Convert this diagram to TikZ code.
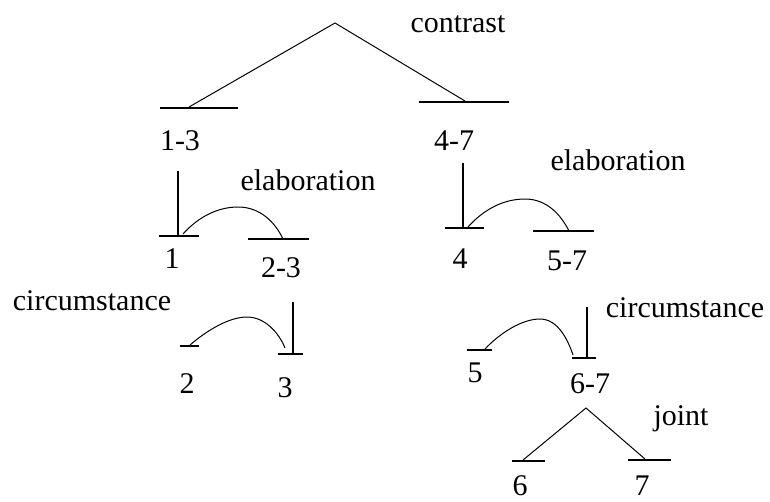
\documentclass[tikz,border=0pt]{standalone}
\usepackage{fontspec}
\setmainfont{Liberation Serif}
\begin{document}
\begin{tikzpicture}[x=1pt,y=-1pt,
  bar/.style={line width=1.2pt},
  link/.style={line width=1pt},
  lab/.style={anchor=base,inner sep=0pt,font=\fontsize{30}{30}\selectfont}]
\useasboundingbox (0,0) rectangle (770,501);
% labels
\node[lab] (contrast) at (458,32) {contrast};
\node[lab] (n13) at (180,150) {1-3};
\node[lab] (n47) at (454,150) {4-7};
\node[lab] (elabL) at (308,190) {elaboration};
\node[lab] (elabR) at (618,170) {elaboration};
\node[lab] (n1) at (172,268) {1};
\node[lab] (n23) at (281,277) {2-3};
\node[lab] (circL) at (92,310) {circumstance};
\node[lab] (n2) at (187,393) {2};
\node[lab] (n3) at (285,397) {3};
\node[lab] (n4) at (460,268) {4};
\node[lab] (n57) at (567,270) {5-7};
\node[lab] (circR) at (685,317) {circumstance};
\node[lab] (n5) at (475,382) {5};
\node[lab] (n67) at (590,393) {6-7};
\node[lab] (joint) at (681,425) {joint};
\node[lab] (n6) at (520,495) {6};
\node[lab] (n7) at (642,495) {7};
% bars
\draw[bar] (160,108) -- (238,108);
\draw[bar] (419,102) -- (509,102);
\draw[bar] (159,236) -- (199,236);
\draw[bar] (248,239) -- (309,239);
\draw[bar] (445,228) -- (484,228);
\draw[bar] (533,231) -- (594,231);
\draw[bar] (180,346) -- (199,346);
\draw[bar] (278,354) -- (303,354);
\draw[bar] (467,350) -- (492,350);
\draw[bar] (572,358) -- (596,358);
\draw[bar] (512,461) -- (545,461);
\draw[bar] (628,460) -- (671,460);
% nuclei verticals
\draw[bar] (178,171) -- (178,236);
\draw[bar] (463,163) -- (463,228);
\draw[bar] (293,302) -- (293,354);
\draw[bar] (587,307) -- (587,358);
% contrast
\coordinate (ctop) at (335,23);
\coordinate (cl) at (189,107);
\coordinate (cr) at (465,101);
\draw[link] (cl) -- (ctop) -- (cr);
% joint
\coordinate (jtop) at (586,408);
\coordinate (jl) at (523,460);
\coordinate (jr) at (645,459);
\draw[link] (jl) -- (jtop) -- (jr);
% elaboration arcs
\coordinate (eLs) at (183,234);
\coordinate (eLe) at (283,239);
\draw[link] (eLs) .. controls (200,215) and (220,207) .. (238,207)
  .. controls (260,207) and (275,222) .. (eLe);
\coordinate (eRs) at (468,227);
\coordinate (eRe) at (569,231);
\draw[link] (eRs) .. controls (485,208) and (505,199) .. (525,199)
  .. controls (547,199) and (561,215) .. (eRe);
% circumstance arcs
\coordinate (cLs) at (190,345);
\coordinate (cLe) at (285,348);
\draw[link] (cLs) .. controls (205,332) and (228,317) .. (247,317)
  .. controls (265,317) and (279,333) .. (cLe);
\coordinate (cRs) at (485,349);
\coordinate (cRe) at (573,355);
\draw[link] (cRs) .. controls (500,333) and (522,319) .. (540,319)
  .. controls (558,319) and (568,340) .. (cRe);
\end{tikzpicture}
\end{document}
